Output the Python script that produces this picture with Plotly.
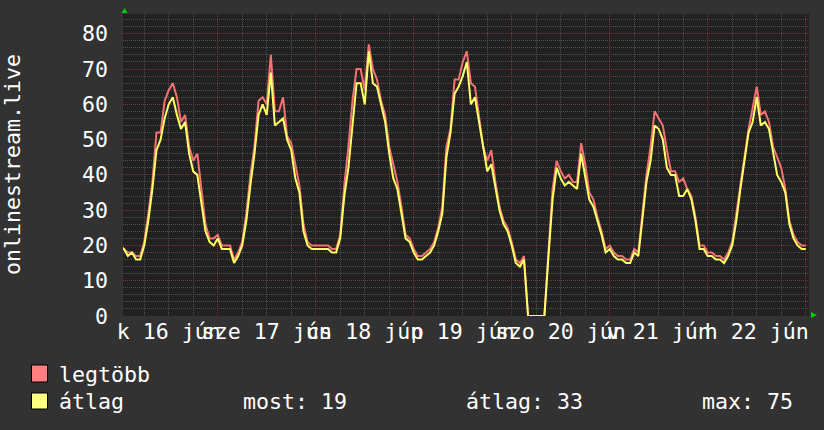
import plotly.graph_objects as go
import pandas as pd

# hourly samples starting 2015-06-16 00:00
start = "2015-06-16 00:00"
avg_vals = [
    20,19,17,18,16,16,20,27,36,47,50,56,60,62,57,53,55,46,41,40,32,24,21,20,
    22,19,19,19,15,17,20,27,37,46,57,60,57,69,54,55,56,50,47,39,35,24,20,19,
    19,19,19,19,18,18,22,34,42,53,66,66,60,75,66,65,60,55,46,39,36,29,22,21,
    18,16,16,17,18,20,24,29,45,52,63,65,68,72,60,62,55,47,41,43,36,30,26,24,
    20,15,14,16,0,0,0,0,0,17,33,42,39,37,38,37,36,46,40,33,31,27,23,18,
    19,17,16,16,15,15,18,17,28,38,44,54,53,50,42,40,40,34,34,36,33,27,19,19,
    17,17,16,16,15,17,20,27,36,44,52,55,62,54,55,53,46,40,38,35,26,22,20,19,19,
]
max_vals = [
    20,19,18,18,17,17,21,29,38,52,52,61,64,66,62,55,57,48,44,46,35,26,22,22,
    23,20,20,20,16,18,21,29,40,48,61,62,60,74,58,58,62,51,49,43,37,26,21,20,
    20,20,20,20,19,19,23,37,48,61,70,70,64,77,70,67,61,57,48,43,38,31,23,22,
    19,17,17,18,19,21,25,31,48,53,67,67,72,75,66,65,56,48,44,47,38,31,27,25,
    21,16,15,17,0,0,0,0,0,18,36,44,41,39,40,38,38,49,43,35,33,28,24,19,
    20,18,17,17,16,16,19,18,30,40,48,58,56,54,47,41,41,38,39,36,34,28,20,20,
    18,18,17,17,16,18,21,29,38,46,53,59,65,57,58,55,48,45,42,36,27,23,21,20,20,
]
times = pd.date_range(start, periods=len(avg_vals), freq="h")

day_labels = ["k 16 jún", "sze 17 jún", "cs 18 jún", "p 19 jún",
              "szo 20 jún", "v 21 jún", "h 22 jún"]
label_times = pd.date_range("2015-06-16 12:00", periods=7, freq="D")
midnights = pd.date_range("2015-06-16", periods=8, freq="D")
y_ticks = [0, 10, 20, 30, 40, 50, 60, 70, 80]
y_title = "onlinestream.live"
legend_rows = ["legtöbb", "átlag"]
stats = ["most: 19", "átlag: 33", "max: 75"]

W, H = 824, 430
L, R, T, B = 123, 809, 14, 316
def px(x):
    return (x - L) / (R - L)
def py(y):
    return (B - y) / (B - T)

FONT = "DejaVu Sans Mono"
FS = 21.6
xrange = ["2015-06-16 00:48", "2015-06-23 00:48"]

fig = go.Figure()
fig.add_trace(go.Scatter(x=times, y=max_vals, mode="lines",
                         line=dict(color="#f27272", width=2), name="legtöbb",
                         showlegend=False, hoverinfo="skip"))
fig.add_trace(go.Scatter(x=times, y=avg_vals, mode="lines",
                         line=dict(color="#ffff66", width=2), name="átlag",
                         showlegend=False, hoverinfo="skip"))
fig.add_trace(go.Scatter(x=[], y=[], xaxis="x2", showlegend=False))

fig.update_layout(
    width=W, height=H,
    margin=dict(l=L, r=W - R, t=T, b=H - B, pad=0),
    paper_bgcolor="#323232", plot_bgcolor="#212121",
    font=dict(family=FONT, size=FS, color="#ffffff"),
    xaxis=dict(
        type="date", range=xrange, tickmode="array", tickvals=midnights,
        showticklabels=False, ticks="", showgrid=True,
        gridcolor="#7a3434", griddash="1px,1px", gridwidth=1,
        minor=dict(dtick=6 * 3600 * 1000, tick0="2015-06-16", showgrid=True,
                   gridcolor="#505050", griddash="1px,1px", gridwidth=1),
        zeroline=False, showline=False, fixedrange=True,
    ),
    xaxis2=dict(
        type="date", range=xrange, overlaying="x", anchor="y", side="bottom",
        tickmode="array", tickvals=label_times, ticktext=day_labels,
        tickangle=0, showgrid=False, ticks="", zeroline=False, showline=False,
        tickfont=dict(family=FONT, size=FS, color="#ffffff"),
        ticklabelstandoff=0, ticklabeloverflow="allow",
    ),
    yaxis=dict(
        range=[0, 85.6], tickmode="array", tickvals=y_ticks,
        ticktext=[str(v) for v in y_ticks], showgrid=True,
        gridcolor="#7a3434", griddash="1px,1px", gridwidth=1,
        minor=dict(dtick=2, tick0=0, showgrid=True, gridcolor="#505050",
                   griddash="1px,1px", gridwidth=1),
        zeroline=False, showline=False, ticks="",
        tickfont=dict(family=FONT, size=FS, color="#ffffff"),
        ticklabelstandoff=14,
    ),
    showlegend=False,
)

shapes = []
# green arrows at axis ends
shapes.append(dict(type="path", xref="paper", yref="paper",
                   path=f"M {px(121.5)},{py(13)} L {px(127.5)},{py(13)} L {px(124.5)},{py(8)} Z",
                   fillcolor="#00cc00", line=dict(width=0)))
shapes.append(dict(type="path", xref="paper", yref="paper",
                   path=f"M {px(811)},{py(312)} L {px(811)},{py(318)} L {px(817)},{py(315)} Z",
                   fillcolor="#00cc00", line=dict(width=0)))
# legend swatches
for (y0, y1), col in zip([(365, 382), (393, 409)], ["#ff8080", "#ffff80"]):
    shapes.append(dict(type="rect", xref="paper", yref="paper",
                       x0=px(31.5), x1=px(47.5), y0=py(y1), y1=py(y0),
                       fillcolor=col, line=dict(color="#000000", width=1)))
fig.update_layout(shapes=shapes)

ann = []
ann.append(dict(text=y_title, xref="paper", yref="paper", x=px(12), y=py(165),
                xanchor="center", yanchor="middle", textangle=-90, showarrow=False,
                font=dict(family=FONT, size=FS, color="#ffffff")))
for txt, yc in zip(legend_rows, [374, 401]):
    ann.append(dict(text=txt, xref="paper", yref="paper", x=px(57), y=py(yc),
                    xanchor="left", yanchor="middle", showarrow=False,
                    font=dict(family=FONT, size=FS, color="#ffffff")))
for txt, xs in zip(stats, [241, 464, 700]):
    ann.append(dict(text=txt, xref="paper", yref="paper", x=px(xs), y=py(401),
                    xanchor="left", yanchor="middle", showarrow=False,
                    font=dict(family=FONT, size=FS, color="#ffffff")))
fig.update_layout(annotations=ann)

fig.write_html("out.html")
